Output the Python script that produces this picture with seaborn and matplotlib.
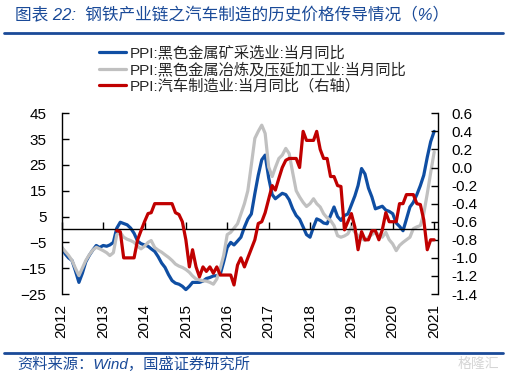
import numpy as np
import pandas as pd
import matplotlib.pyplot as plt
import matplotlib.dates as mdates
import seaborn as sns
from matplotlib.lines import Line2D
from matplotlib.ticker import FixedLocator, FuncFormatter

# 月度数据 2012-01 ~ 2021-01
dates = pd.date_range('2012-01-01', '2021-01-01', freq='MS')

# PPI:黑色金属矿采选业:当月同比 (左轴)
ppi_mining = [
    -6.9, -9.5, -11, -12, -16, -20.5, -17, -12.5, -10, -8, -6.2, -7,
    -6.2, -6.5, -6, -5, 0.5, 2.8, 2.3, 1.8, 0.5, -1.5, -4.5, -5.5,
    -6, -6.5, -7.5, -8.5, -10.5, -13, -14.7, -17.5, -19.8, -20.8, -21.2, -22,
    -23.3, -22, -20.5, -20.5, -20.5, -20, -19, -18.6, -18, -17.9, -17.3, -12.5,
    -7, -5, -6, -4.5, -3, 0.9, 4, 6, 13.9, 21, 27, 28.8,
    20, 13.5, 11.9, 13, 14, 13.5, 11.5, 8, 5.4, 4, 1, -2,
    -3, 1, 4.1, 3.5, 2.5, 2.2, 5.4, 8.7, 5, 3.5, 5.4, 6,
    9.5, 13, 17, 23.6, 21.5, 16, 12.6, 8, 8.5, 9, 7.5, 7,
    6.1, 2.5, 1.2, -0.5, 4, 8.7, 10.5, 13.5, 17, 21, 28, 34,
    38,
]

# PPI:黑色金属冶炼及压延加工业:当月同比 (左轴)
ppi_smelting = [
    -6.9, -8.5, -10, -12, -15, -17.9, -15, -12, -9.8, -8, -6.9, -7.5,
    -8.2, -9, -10.1, -9, -2, -1.1, -3, -3.8, -4.3, -5, -6.5, -7.5,
    -6.5, -5, -4.3, -7, -8, -8.8, -9.8, -10.8, -12, -13.4, -14.2, -14.7,
    -15.5, -16.6, -18, -19.2, -19.5, -19.9, -20, -20.5, -21.2, -19.2, -15, -10,
    -2, -1.1, 0.5, 2.2, 6, 10, 15, 25, 35.3, 38, 40.4, 37.2,
    24.2, 20.5, 24, 27.5, 28.8, 31.4, 29.4, 22, 15, 12.6, 10.5, 8.9,
    10, 11.9, 10, 8.7, 6.1, 4.5, 3.5, 1.5, -2.4, -3, -2.5, -1.7,
    0.9, -1.1, -2.4, -3.5, -4.3, -3, -2, -1.1, -2, -3, -1.1, -4,
    -5.6, -8.2, -6.2, -5, -4, -3, 0.3, 1, 1.5, 6.1, 13.9, 22,
    30,
]

# PPI:汽车制造业:当月同比 (右轴)
ppi_auto = [np.nan] * 16 + [
    -0.70, -0.71, -1.0, -1.0, -1.0, -1.0, -0.80, -0.70,
    -0.60, -0.51, -0.50, -0.40, -0.40, -0.40, -0.40, -0.40, -0.40, -0.50, -0.52, -0.60,
    -0.80, -1.10, -0.91, -1.10, -1.21, -1.10, -1.15, -1.10, -1.17, -1.10, -1.19, -1.19,
    -1.19, -1.19, -1.30, -1.08, -1.00, -1.10, -1.00, -0.90, -0.80, -0.62, -0.60, -0.50,
    -0.35, -0.20, -0.25, -0.12, 0.0, 0.08, 0.10, 0.10, 0.10, 0.0, 0.40, 0.30,
    0.30, 0.30, 0.40, 0.20, 0.10, 0.10, -0.10, -0.10, -0.20, -0.21, -0.69, -0.60,
    -0.51, -0.66, -0.91, -0.71, -0.80, -0.80, -0.70, -0.70, -0.80, -0.69, -0.50, -0.60,
    -0.60, -0.60, -0.40, -0.40, -0.30, -0.30, -0.30, -0.40, -0.41, -0.58, -0.91, -0.80,
    -0.80,
]

labels = ['PPI:黑色金属矿采选业:当月同比',
          'PPI:黑色金属冶炼及压延加工业:当月同比',
          'PPI:汽车制造业:当月同比（右轴）']
c_blue, c_gray, c_red = '#0f4ea3', '#c0c0c0', '#c00000'
c_title = '#1a4a98'

df = pd.DataFrame({'date': dates, 'mining': ppi_mining,
                   'smelting': ppi_smelting, 'auto': ppi_auto})

sns.set_style('ticks')
plt.rcParams['font.family'] = ['Liberation Sans', 'Noto Sans CJK SC']

fig = plt.figure(figsize=(5.07, 3.78), dpi=100)
ax = fig.add_axes([0.1217, 0.2222, 0.7416, 0.4781])
ax2 = ax.twinx()

sns.lineplot(data=df, x='date', y='mining', ax=ax, color=c_blue, lw=2.3)
sns.lineplot(data=df, x='date', y='smelting', ax=ax, color=c_gray, lw=2.3)
sns.lineplot(data=df, x='date', y='auto', ax=ax2, color=c_red, lw=2.3)

# 左轴
ax.set_ylim(-25, 45)
ax.set_yticks(range(-25, 46, 10))
ax.set_xlim(pd.Timestamp('2012-01-01'), pd.Timestamp('2021-02-01'))
ax.xaxis.set_major_locator(mdates.YearLocator())
ax.xaxis.set_major_formatter(mdates.DateFormatter('%Y'))
ax.set_xlabel('')
ax.set_ylabel('')
ax.spines['top'].set_visible(False)
ax.spines['right'].set_visible(False)
ax.spines['bottom'].set_position(('data', 0))
for s in ['left', 'bottom']:
    ax.spines[s].set_color('black')
    ax.spines[s].set_linewidth(1)
ax.tick_params(axis='y', direction='in', length=5, width=1, labelsize=11,
               pad=11, left=True, colors='black')
ax.tick_params(axis='x', direction='in', length=5, width=1, labelsize=11,
               pad=54, labelrotation=90, bottom=True, colors='black')

# 右轴
ax2.set_ylim(-1.4, 0.6)
r_ticks = np.round(np.arange(-1.4, 0.61, 0.2), 1)
ax2.yaxis.set_major_locator(FixedLocator(r_ticks))
ax2.yaxis.set_major_formatter(FuncFormatter(lambda v, p: f'{v:.1f}'.replace('-0.0', '0.0')))
ax2.set_ylabel('')
for s in ['top', 'left', 'bottom']:
    ax2.spines[s].set_visible(False)
ax2.spines['right'].set_color('black')
ax2.spines['right'].set_linewidth(1)
ax2.tick_params(axis='y', direction='in', length=5, width=1, labelsize=11,
                pad=10, right=True, colors='black')

# 图例
handles = [Line2D([0], [0], color=c, lw=2.3) for c in (c_blue, c_gray, c_red)]
fig.legend(handles, labels, loc='upper left', bbox_to_anchor=(0.195, 0.88),
           frameon=False, fontsize=11, handlelength=1.8, handletextpad=0.2,
           labelspacing=0.12, borderpad=0, borderaxespad=0)

# 标题与来源
fig.text(15 / 507, 1 - 15 / 378, '图表 22:  钢铁产业链之汽车制造的历史价格传导情况（%）',
         color=c_title, fontsize=12, style='italic', va='center', ha='left')
fig.add_artist(Line2D([0.008, 0.992], [1 - 32.5 / 378] * 2, color=c_title, lw=2))
fig.add_artist(Line2D([0.008, 0.992], [1 - 352.5 / 378] * 2, color=c_title, lw=2))
fig.text(17 / 507, 1 - 364 / 378, '资料来源：Wind，国盛证券研究所',
         color=c_title, fontsize=11, style='italic', va='center', ha='left')
fig.text(0.985, 1 - 364 / 378, '格隆汇', color='#d5d5d5', fontsize=10,
         va='center', ha='right')

fig.savefig('out.png', dpi=100)
